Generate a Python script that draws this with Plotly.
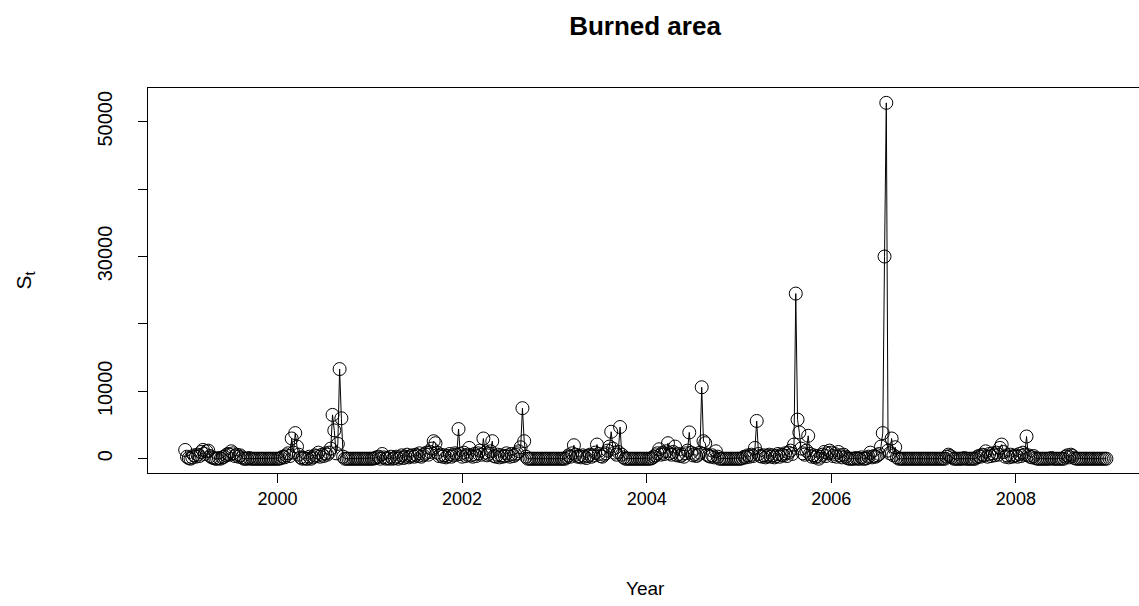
import plotly.graph_objects as go

# Weekly burned area (frequency 52), one list per year
years = [1999, 2000, 2001, 2002, 2003, 2004, 2005, 2006, 2007, 2008]

s1999 = [1300, 300, 100, 0, 200, 500, 300, 600, 400, 1000, 1300, 700, 1100,
         1200, 400, 200, 100, 0, 0, 100, 0, 200, 300, 500, 700, 600,
         1100, 800, 400, 600, 300, 500, 200, 0, 0, 0, 100, 0, 0,
         0, 0, 0, 0, 0, 0, 0, 0, 0, 0, 0, 0, 0]
s2000 = [0, 0, 100, 300, 200, 500, 800, 400, 3000, 900, 3800, 1800, 600,
         200, 0, 100, 0, 0, 300, 0, 200, 500, 400, 900, 300, 600,
         400, 800, 600, 900, 1500, 6500, 4200, 800, 2200, 13300, 6000, 300, 0,
         0, 0, 0, 0, 0, 0, 0, 0, 0, 0, 0, 0, 0]
s2001 = [0, 0, 0, 100, 200, 300, 0, 700, 200, 0, 100, 0, 300,
         0, 100, 300, 0, 200, 500, 100, 300, 600, 200, 400, 500, 300,
         600, 400, 800, 300, 500, 700, 900, 600, 1000, 1500, 2600, 2300, 900,
         400, 600, 300, 500, 200, 400, 700, 300, 500, 800, 600, 4400, 700]
s2002 = [300, 900, 400, 600, 1600, 500, 300, 700, 400, 800, 1200, 600, 3000,
         900, 500, 700, 1100, 2600, 400, 300, 600, 200, 500, 300, 400, 800,
         500, 300, 700, 400, 600, 800, 1100, 1700, 7500, 2600, 300, 0, 0,
         0, 0, 0, 0, 0, 0, 0, 0, 0, 0, 0, 0, 0]
s2003 = [0, 0, 0, 0, 0, 0, 0, 200, 500, 300, 800, 2000, 600,
         300, 400, 200, 500, 300, 100, 400, 600, 300, 500, 900, 2100, 700,
         400, 300, 600, 800, 1200, 1800, 4000, 1500, 900, 600, 1000, 4700, 600,
         200, 0, 0, 0, 0, 0, 0, 0, 0, 0, 0, 0, 0]
s2004 = [0, 0, 0, 100, 300, 500, 800, 1400, 600, 900, 700, 1100, 2300,
         800, 600, 1000, 1800, 500, 700, 400, 600, 300, 800, 1200, 3900, 900,
         500, 700, 400, 600, 900, 10600, 2600, 2300, 600, 400, 300, 500, 200,
         1100, 300, 0, 0, 0, 0, 0, 0, 0, 0, 0, 0, 0]
s2005 = [0, 0, 100, 300, 200, 500, 300, 600, 400, 1600, 5600, 700, 400,
         300, 500, 200, 400, 600, 300, 500, 200, 400, 700, 300, 600, 500,
         800, 400, 900, 1200, 700, 2100, 24500, 5800, 3900, 1500, 800, 600, 1200,
         3400, 700, 300, 500, 200, 400, 0, 300, 600, 1000, 400, 800, 1200]
s2006 = [900, 400, 700, 300, 1000, 500, 200, 600, 300, 100, 0, 0, 0,
         0, 100, 0, 0, 200, 0, 0, 100, 300, 900, 200, 400, 300,
         500, 700, 1800, 3800, 30000, 52800, 1200, 800, 3000, 500, 1700, 200, 0,
         0, 0, 0, 0, 0, 0, 0, 0, 0, 0, 0, 0, 0]
s2007 = [0, 0, 0, 0, 0, 0, 0, 0, 0, 0, 0, 0, 0,
         300, 600, 400, 200, 0, 0, 0, 0, 0, 0, 100, 0, 0,
         0, 0, 0, 0, 200, 400, 300, 600, 500, 1100, 300, 700, 400,
         800, 500, 900, 600, 1600, 2100, 1000, 300, 500, 200, 600, 300, 400]
s2008 = [500, 300, 700, 400, 900, 600, 3300, 500, 300, 200, 400, 100, 0,
         0, 0, 0, 0, 0, 0, 0, 100, 0, 0, 0, 0, 0,
         0, 0, 300, 500, 200, 600, 400, 100, 0, 0, 0, 0, 0,
         0, 0, 0, 0, 0, 0, 0, 0, 0, 0, 0, 0, 0]

series = [s1999, s2000, s2001, s2002, s2003, s2004, s2005, s2006, s2007, s2008]

x_ticks = [2000, 2002, 2004, 2006, 2008]
x_ticktext = ["2000", "2002", "2004", "2006", "2008"]
y_labelled_ticks = [0, 10000, 30000, 50000]
y_ticktext = ["0", "10000", "30000", "50000"]
y_tick_step = 10000

x, y = [], []
for yr, vals in zip(years, series):
    for w, v in enumerate(vals):
        x.append(yr + w / 52)
        y.append(v)

FONT = "Liberation Sans, Arial, Helvetica, sans-serif"

fig = go.Figure()
fig.add_trace(go.Scatter(
    x=x, y=y, mode="lines+markers",
    line=dict(color="black", width=1),
    marker=dict(symbol="circle-open", size=13, color="black",
                line=dict(color="black", width=1)),
    showlegend=False, cliponaxis=False,
))

fig.update_layout(
    width=1139, height=606,
    margin=dict(l=148, r=0, t=88, b=133),
    paper_bgcolor="white", plot_bgcolor="white",
    font=dict(family=FONT, size=18, color="black"),
    title=dict(text="<b>Burned area</b>", x=645 / 1139, xref="container",
               xanchor="center", y=1 - 26 / 606, yref="container",
               yanchor="middle", font=dict(size=26, family=FONT, color="black")),
    xaxis=dict(range=[1998.597, 2009.334], tickvals=x_ticks, ticktext=x_ticktext,
               ticks="outside", ticklen=9, tickwidth=1, tickcolor="black",
               showline=True, linecolor="black", linewidth=1, mirror=True,
               showgrid=False, zeroline=False,
               tickfont=dict(size=18, family=FONT, color="black")),
    yaxis=dict(range=[-2120, 55000], tickvals=y_labelled_ticks,
               ticktext=y_ticktext, tickangle=-90, ticklabelstandoff=18,
               ticks="outside", ticklen=9, tickwidth=1, tickcolor="black",
               minor=dict(dtick=y_tick_step, tick0=0, ticks="outside",
                          ticklen=9, tickwidth=1, tickcolor="black",
                          showgrid=False),
               showline=True, linecolor="black", linewidth=1, mirror=False,
               showgrid=False, zeroline=False,
               tickfont=dict(size=20, family=FONT, color="black")),
    annotations=[
        dict(text="Year", xref="paper", yref="paper",
             x=(645 - 148) / 991, y=-(588 - 473) / 385,
             xanchor="center", yanchor="middle", showarrow=False,
             font=dict(size=19, family=FONT, color="black")),
        dict(text="S<sub>t</sub>", xref="paper", yref="paper",
             x=(24 - 148) / 991, y=0.5, textangle=-90,
             xanchor="center", yanchor="middle", showarrow=False,
             font=dict(size=21, family=FONT, color="black")),
    ],
)

fig.write_html("out.html")
